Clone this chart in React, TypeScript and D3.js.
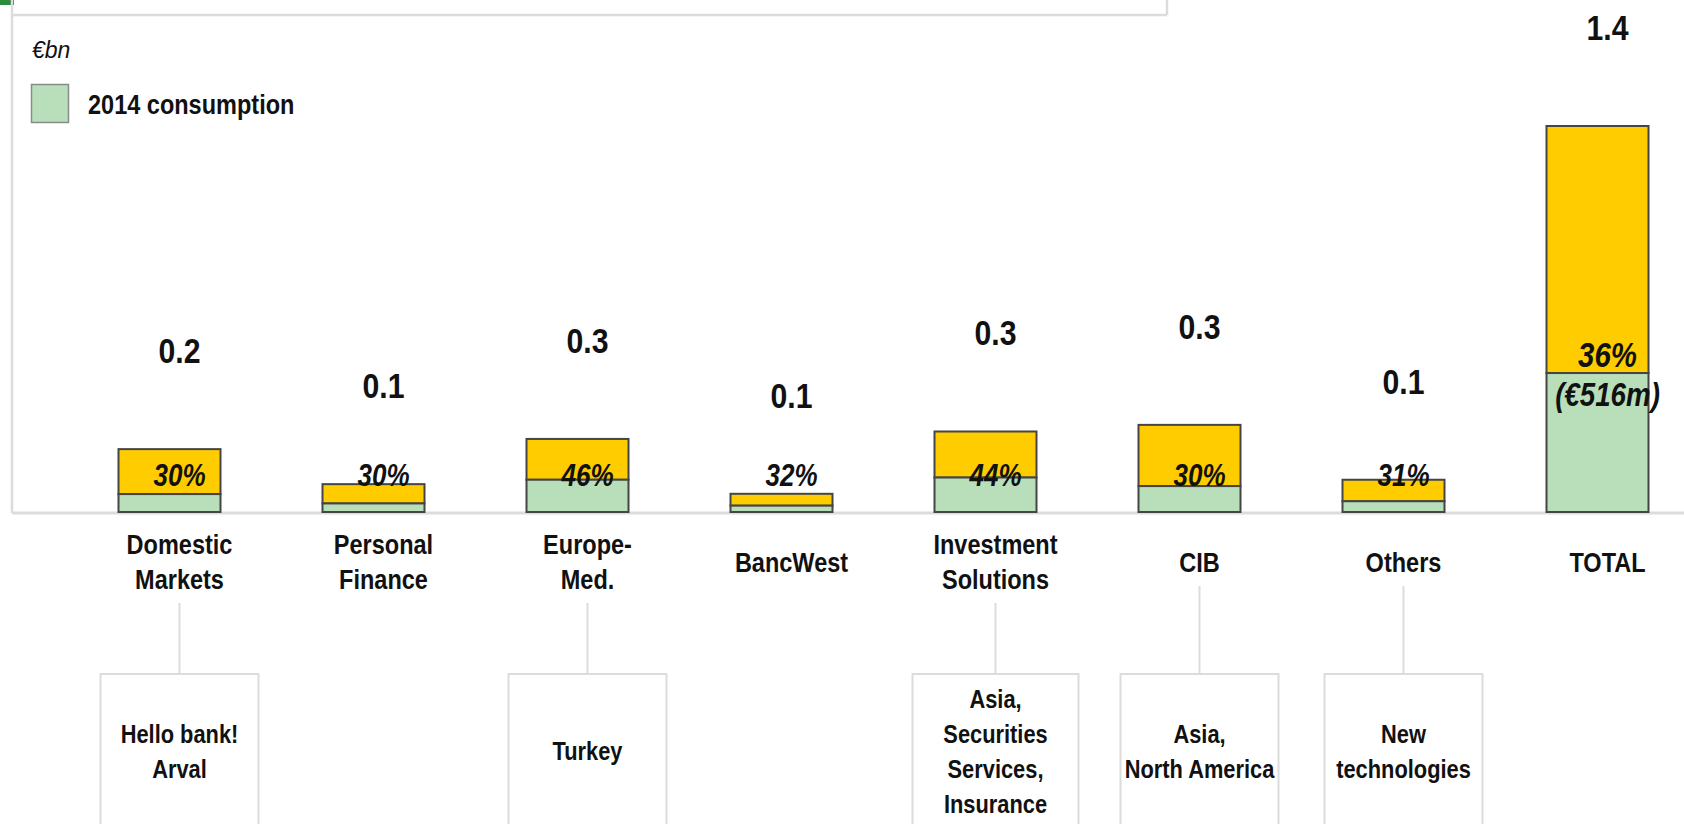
import React from "react";
import * as d3 from "d3";

const categories = ["Domestic Markets", "Personal Finance", "Europe-Med.", "BancWest", "Investment Solutions", "CIB", "Others", "TOTAL"];
const categoryLines = [["Domestic", "Markets"], ["Personal", "Finance"], ["Europe-", "Med."], ["BancWest"], ["Investment", "Solutions"], ["CIB"], ["Others"], ["TOTAL"]];
const totalValues = [0.228, 0.101, 0.265, 0.066, 0.292, 0.316, 0.117, 1.40];
const consumption2014 = [0.065, 0.031, 0.117, 0.023, 0.125, 0.094, 0.039, 0.504];
const valueLabels = ["0.2", "0.1", "0.3", "0.1", "0.3", "0.3", "0.1", "1.4"];
const pctLabels = ["30%", "30%", "46%", "32%", "44%", "30%", "31%", "36%"];
const noteLines = [["Hello bank!", "Arval"], null, ["Turkey"], null, ["Asia,", "Securities", "Services,", "Insurance"], ["Asia,", "North America"], ["New", "technologies"], null];
const legendLabel = "2014 consumption";
const unitLabel = "€bn";
const totalNote = "(€516m)";

const W = 1684;
const H = 824;
const FONT = "'Liberation Sans', Arial, sans-serif";
const YELLOW = "#FFCC00";
const GREEN = "#B9DFBA";
const STROKE = "#454545";
const GRID = "#dcdcdc";
const SX = 0.84;

type TxtProps = { x: number; y: number; size: number; anchor?: string; italic?: boolean; bold?: boolean; children: React.ReactNode };
function Txt({ x, y, size, anchor = "middle", italic = false, bold = true, children }: TxtProps) {
  return (
    <text
      transform={`translate(${x},${y}) scale(${SX},1)`}
      fontSize={size}
      fontWeight={bold ? "bold" : "normal"}
      fontStyle={italic ? "italic" : "normal"}
      textAnchor={anchor}
      fill="#111"
    >
      {children}
    </text>
  );
}

export default function App() {
  const x = d3.scaleBand<string>().domain(categories).range([67.5, 1699.5]).paddingInner(0.5).paddingOuter(0.25);
  const y = d3.scaleLinear().domain([0, 1.4]).range([512, 126]);
  const bw = x.bandwidth();
  const off = 10;
  return (
    <svg width={W} height={H} style={{ position: "absolute", left: 0, top: 0, background: "#fff" }} fontFamily={FONT}>
      {/* top frame */}
      <rect x={0} y={0} width={14} height={5} fill="#2e8b3e" />
      <line x1={12} y1={15} x2={1167} y2={15} stroke={GRID} strokeWidth={2.5} />
      <line x1={1167} y1={0} x2={1167} y2={15} stroke={GRID} strokeWidth={2.5} />
      <line x1={12} y1={0} x2={12} y2={513} stroke={GRID} strokeWidth={2.5} />
      {/* unit & legend */}
      <text x={32} y={58} fontSize={23} fontStyle="italic" fill="#111">{unitLabel}</text>
      <rect x={31.5} y={84.5} width={37} height={38} fill={GREEN} stroke="#8a8a8a" strokeWidth={1.5} />
      <Txt x={88} y={114} size={28} anchor="start">{legendLabel}</Txt>
      {/* axis */}
      <line x1={12} y1={513} x2={W} y2={513} stroke={GRID} strokeWidth={3} />
      {categories.map((c, i) => {
        const x0 = x(c)!;
        const cx = x0 + bw / 2;
        const yt = y(totalValues[i]);
        const yg = y(consumption2014[i]);
        const isTotal = c === "TOTAL";
        const lines = categoryLines[i];
        const notes = noteLines[i];
        const boxW = notes && notes.length > 2 ? 166 : 158;
        return (
          <g key={c}>
            <rect x={x0} y={yt} width={bw} height={yg - yt} fill={YELLOW} stroke={STROKE} strokeWidth={2} />
            <rect x={x0} y={yg} width={bw} height={y(0) - yg} fill={GREEN} stroke={STROKE} strokeWidth={2} />
            <Txt x={cx + off} y={yt - 86} size={36}>{valueLabels[i]}</Txt>
            {isTotal ? (
              <>
                <Txt x={cx + off} y={yg - 6} size={35} italic>{pctLabels[i]}</Txt>
                <Txt x={cx + off} y={yg + 33} size={33} italic>{totalNote}</Txt>
              </>
            ) : (
              <Txt x={cx + off} y={486} size={31} italic>{pctLabels[i]}</Txt>
            )}
            {lines.map((l, j) => (
              <Txt key={j} x={cx + off} y={571.5 + (j - (lines.length - 1) / 2) * 35} size={28}>{l}</Txt>
            ))}
            {notes && (
              <g>
                <line x1={cx + off} y1={lines.length > 1 ? 603 : 586} x2={cx + off} y2={674} stroke={GRID} strokeWidth={2} />
                <rect x={cx + off - boxW / 2} y={674} width={boxW} height={170} fill="none" stroke={GRID} strokeWidth={2} />
                {notes.map((n, j) => (
                  <Txt key={j} x={cx + off} y={760 + (j - (notes.length - 1) / 2) * 35} size={26}>{n}</Txt>
                ))}
              </g>
            )}
          </g>
        );
      })}
    </svg>
  );
}
